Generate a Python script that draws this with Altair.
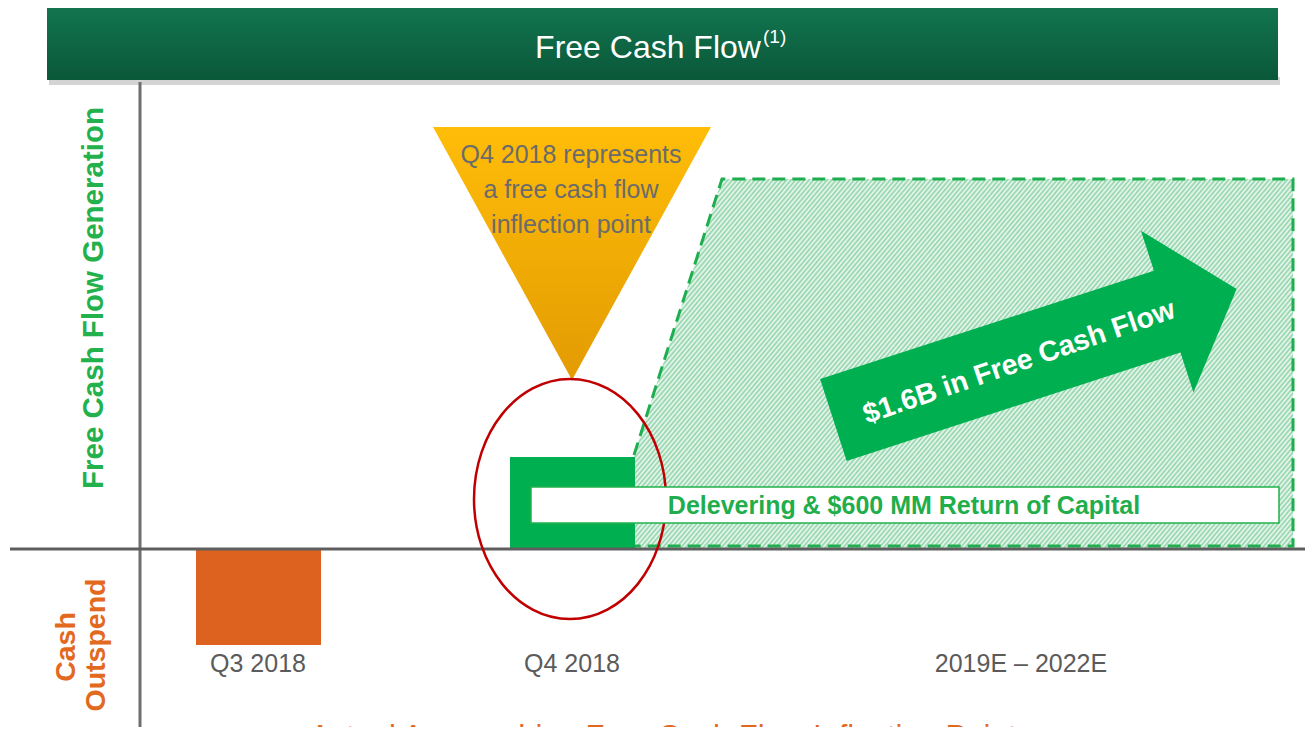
import math
import altair as alt
import pandas as pd

# ------------------------------------------------------------------ data
periods = ["Q3 2018", "Q4 2018", "2019E – 2022E"]
fcf_relative = [-0.96, 0.92, 3.70]          # relative free-cash-flow level per period
bar_colors = ["#dd6220", "#00b050"]
title_text = "Free Cash Flow"
title_note = "(1)"
axis_pos_label = "Free Cash Flow Generation"
axis_neg_labels = ["Cash", "Outspend"]
callout_lines = ["Q4 2018 represents", "a free cash flow", "inflection point"]
arrow_text = "$1.6B in Free Cash Flow"
box_text = "Delevering & $600 MM Return of Capital"
footer_text = "Actual Approaching Free Cash Flow Inflection Point"

# ------------------------------------------------------------------ layout
W, H = 1297, 719
X_DOM = [8, 1305]
Y_DOM = [-1.78, 5.41]
FONT = "Liberation Sans, Arial, sans-serif"
GREEN = "#00b050"
TEXT_GREEN = "#1fae4b"
ORANGE = "#e2691e"
GREY = "#5b5b5b"

bar_x = [(196, 321), (510, 635)]
label_x = [258, 572, 1021]
label_y = -1.23
forecast_x = [634, 722, 1293]
forecast_left_y = 0.94


def X(f="x"):
    return alt.X(f"{f}:Q", scale=alt.Scale(domain=X_DOM, nice=False, zero=False), axis=None)


def Y(f="y"):
    return alt.Y(f"{f}:Q", scale=alt.Scale(domain=Y_DOM, nice=False, zero=False), axis=None)


def text_layer(rows, **mark):
    df = pd.DataFrame(rows, columns=["x", "y", "t"])
    base = dict(font=FONT, align="center", baseline="alphabetic")
    base.update(mark)
    return alt.Chart(df).mark_text(**base).encode(x=X(), y=Y(), text="t:N")


layers = []

# title bar (shadow + gradient bar + text)
layers.append(alt.Chart(pd.DataFrame({"x": [49], "x2": [1280], "y": [4.72], "y2": [4.64]}))
              .mark_rect(color="#c9c9c9", opacity=0.8)
              .encode(x=X(), x2="x2", y=Y(), y2="y2"))
layers.append(alt.Chart(pd.DataFrame({"x": [47], "x2": [1278], "y": [5.41], "y2": [4.69]}))
              .mark_rect(fill=alt.LinearGradient(gradient="linear", x1=0, y1=0, x2=0, y2=1,
                                                 stops=[alt.GradientStop(offset=0, color="#12744f"),
                                                        alt.GradientStop(offset=1, color="#0a5839")]))
              .encode(x=X(), x2="x2", y=Y(), y2="y2"))
layers.append(text_layer([(648, 4.91, title_text)], fontSize=32, color="white"))
layers.append(text_layer([(763, 5.06, title_note)], fontSize=19, color="white", align="left"))

# forecast envelope: hatched fill via striped gradient
bw, bh = forecast_x[2] - forecast_x[0], fcf_relative[2] * 100
ang = math.radians(50)
nx, ny = math.sin(ang), math.cos(ang)
L = nx * bw + ny * bh
m2 = (nx * bw) ** 2 + (ny * bh) ** 2
lam = L / m2
period = 3.45
N = int(L / period)
stops = []
for i in range(N):
    stops.append(alt.GradientStop(offset=i / N, color="#8ed3a8"))
    stops.append(alt.GradientStop(offset=(i + 0.5) / N, color="#f0f9f3"))
stops.append(alt.GradientStop(offset=1, color="#8ed3a8"))
hatch = alt.LinearGradient(gradient="linear", x1=0, y1=0, x2=lam * nx * bw, y2=lam * ny * bh, stops=stops)

env = pd.DataFrame({"x": forecast_x, "y": [forecast_left_y, fcf_relative[2], fcf_relative[2]], "y2": [0, 0, 0]})
layers.append(alt.Chart(env).mark_area(fill=hatch, opacity=1).encode(x=X(), y=Y(), y2="y2"))

border = pd.DataFrame({"x": [634, 722, 1293, 1293, 634],
                       "y": [forecast_left_y, fcf_relative[2], fcf_relative[2], 0.03, 0.03],
                       "o": [0, 1, 2, 3, 4]})
layers.append(alt.Chart(border).mark_line(color="#1fae4f", strokeWidth=3, strokeDash=[13, 7])
              .encode(x=X(), y=Y(), order="o:Q"))

# actual bars
bars = pd.DataFrame({"x": [b[0] for b in bar_x], "x2": [b[1] for b in bar_x],
                     "y": fcf_relative[:2], "y2": [0, 0], "c": bar_colors})
layers.append(alt.Chart(bars).mark_rect().encode(x=X(), x2="x2", y=Y(), y2="y2",
                                                   color=alt.Color("c:N", scale=None)))

# axis lines
layers.append(alt.Chart(pd.DataFrame({"x": [140], "y": [4.67], "y2": [-1.78]}))
              .mark_rule(color="#6e6e6e", strokeWidth=3).encode(x=X(), y=Y(), y2="y2"))
layers.append(alt.Chart(pd.DataFrame({"x": [10], "x2": [1305], "y": [0]}))
              .mark_rule(color="#5e5e5e", strokeWidth=3).encode(x=X(), x2="x2", y=Y()))

# callout triangle
tri = pd.DataFrame({"x": [433, 572, 711], "y": [4.22, 4.22, 4.22], "y2": [4.22, 1.69, 4.22]})
layers.append(alt.Chart(tri).mark_area(
    fill=alt.LinearGradient(gradient="linear", x1=0, y1=0, x2=0, y2=1,
                            stops=[alt.GradientStop(offset=0, color="#ffbd08"),
                                   alt.GradientStop(offset=1, color="#e39b02")]),
    opacity=1).encode(x=X(), y=Y(), y2="y2"))
layers.append(text_layer([(571, 3.86, callout_lines[0]), (571, 3.51, callout_lines[1]),
                          (571, 3.16, callout_lines[2])], fontSize=25, color="#6b6b6b"))

# arrow
arrow_path = "M -212,-43 L 139,-43 L 139,-85 L 212,0 L 139,85 L 139,43 L -212,43 Z"
layers.append(alt.Chart(pd.DataFrame({"x": [1035], "y": [1.945]}))
              .mark_point(shape=arrow_path, size=4, filled=True, fill=GREEN, opacity=1,
                          strokeWidth=0, angle=342)
              .encode(x=X(), y=Y()))
layers.append(text_layer([(1019, 1.87, arrow_text)], fontSize=28.5, fontWeight="bold", color="white",
                         baseline="middle", angle=341))

# red ellipse highlighting Q4 2018
ellipse_path = "M -96,0 A 96,120 0 1,0 96,0 A 96,120 0 1,0 -96,0 Z"
layers.append(alt.Chart(pd.DataFrame({"x": [570], "y": [0.5]}))
              .mark_point(shape=ellipse_path, size=4, filled=False, stroke="#c00000",
                          strokeWidth=2.5, opacity=1)
              .encode(x=X(), y=Y()))

# delevering box
layers.append(alt.Chart(pd.DataFrame({"x": [531], "x2": [1279], "y": [0.62], "y2": [0.26]}))
              .mark_rect(fill="white", stroke="#22b14c", strokeWidth=1.5)
              .encode(x=X(), x2="x2", y=Y(), y2="y2"))
layers.append(text_layer([(904, 0.35, box_text)], fontSize=25, fontWeight="bold", color=TEXT_GREEN))

# category labels
layers.append(text_layer([(lx, label_y, p) for lx, p in zip(label_x, periods)], fontSize=25, color=GREY))

# value-axis labels
layers.append(text_layer([(103, 2.51, axis_pos_label)], fontSize=29.5, fontWeight="bold",
                         color="#22b14c", angle=270))
layers.append(text_layer([(75, -0.98, axis_neg_labels[0]), (105, -0.96, axis_neg_labels[1])],
                         fontSize=28.5, fontWeight="bold", color=ORANGE, angle=270))

# footer (cut off at bottom, as in the source slide)
layers.append(text_layer([(663, -1.98, footer_text)], fontSize=31, color=ORANGE, clip=True))

chart = alt.layer(*layers).properties(
    width=W, height=H, padding=0, autosize=alt.AutoSizeParams(type="none")
).configure_view(strokeWidth=0)

chart.save("out.html", embed_options={"renderer": "svg", "actions": False})
